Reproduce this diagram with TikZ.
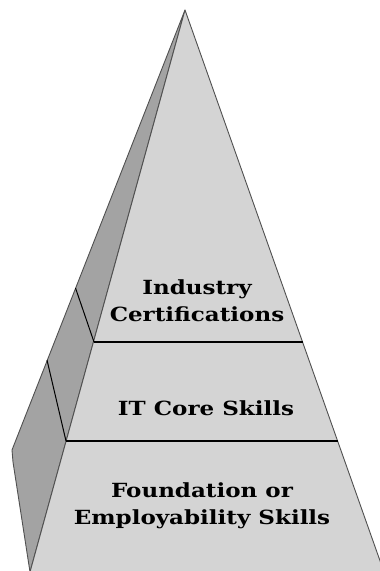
\documentclass[tikz,border=0pt]{standalone}
\usepackage{fontspec}
\setmainfont[FakeStretch=1.18]{DejaVu Serif}
\begin{document}
\begin{tikzpicture}[x=1pt,y=-1pt,
  front/.style={fill=frontgray,draw=edgegray,line width=0.9pt,line join=round},
  side/.style={fill=sidegray,draw=edgegray,line width=0.9pt,line join=round},
  tierline/.style={draw=black,line width=1.3pt},
  sideline/.style={draw=black,line width=1pt},
  label/.style={font=\bfseries\fontsize{19.5}{27}\selectfont,align=center,inner sep=0pt}]
\definecolor{frontgray}{RGB}{212,212,212}
\definecolor{sidegray}{RGB}{163,163,163}
\definecolor{edgegray}{RGB}{80,80,80}
\useasboundingbox (0,0) rectangle (380,571);
\clip (0,0) rectangle (380,571);
% key points
\coordinate (apex) at (185,10);
\coordinate (fl) at (30,572);
\coordinate (fr) at (384,572);
\coordinate (ol) at (12,450);
\coordinate (ol2) at (13,462);
% left side face
\path[side] (apex) -- (ol) -- (ol2) -- (fl) -- cycle;
% front face
\path[front] (apex) -- (fl) -- (fr) -- cycle;
% tier lines on front
\coordinate (t1l) at (94,342);
\coordinate (t1r) at (303,342);
\coordinate (t2l) at (66,441);
\coordinate (t2r) at (338,441);
\draw[tierline] (t1l) -- (t1r);
\draw[tierline] (t2l) -- (t2r);
% tier lines on side
\coordinate (s1) at (75.5,288);
\coordinate (s2) at (47,360);
\draw[sideline] (s1) -- (t1l);
\draw[sideline] (s2) -- (t2l);
% labels
\node[label] (ind) at (197,301) {Industry\\Certifications};
\node[label] (core) at (206,408) {IT Core Skills};
\node[label] (found) at (202,506) {Foundation or\\Employability Skills};
\end{tikzpicture}
\end{document}
